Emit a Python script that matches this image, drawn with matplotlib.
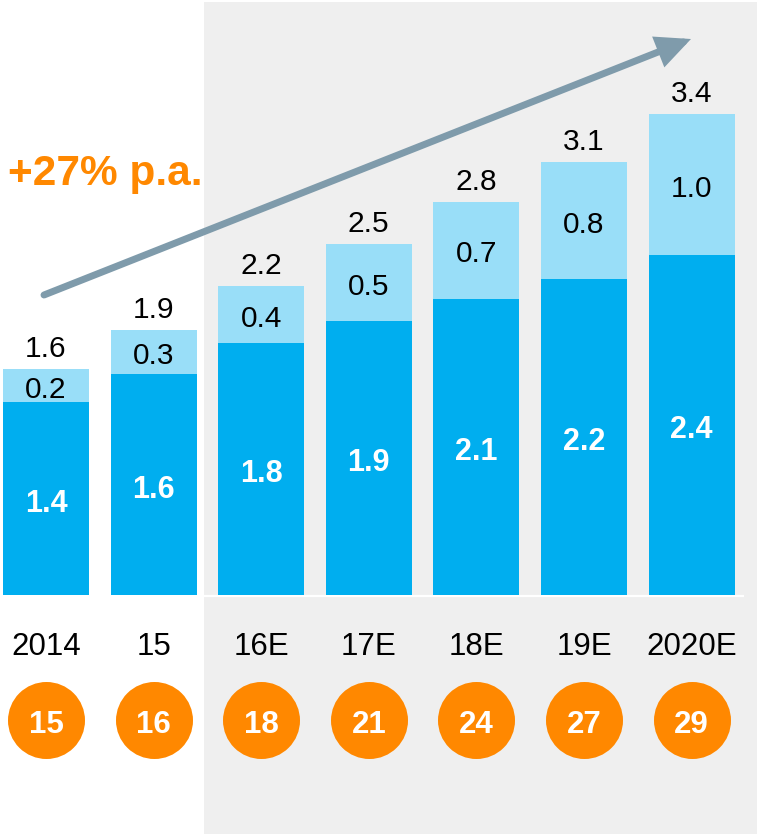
import matplotlib
matplotlib.use("Agg")
import matplotlib.pyplot as plt

plt.rcParams['font.family'] = ['Liberation Sans', 'DejaVu Sans']

categories = ["2014", "15", "16E", "17E", "18E", "19E", "2020E"]
base_values = [1.37, 1.57, 1.79, 1.94, 2.10, 2.24, 2.41]
extra_values = [0.23, 0.31, 0.40, 0.55, 0.69, 0.83, 1.00]
base_labels = ["1.4", "1.6", "1.8", "1.9", "2.1", "2.2", "2.4"]
extra_labels = ["0.2", "0.3", "0.4", "0.5", "0.7", "0.8", "1.0"]
total_labels = ["1.6", "1.9", "2.2", "2.5", "2.8", "3.1", "3.4"]
circle_values = [15, 16, 18, 21, 24, 27, 29]
growth_text = "+27% p.a."

DARK = "#00aeef"
LIGHT = "#99def8"
ORANGE = "#ff8800"
GRAY_BG = "#efefef"
ARROW = "#7f9bab"

W, H, DPI = 757, 834, 100
PT = 0.72  # points per pixel
fig = plt.figure(figsize=(W / DPI, H / DPI), dpi=DPI)
ax = fig.add_axes([0, 0, 1, 1])

# pixel mapping: bar centers at 46 + 107.6*i, baseline at y=595 px, 141 px per unit
px_x = 107.6
px_y = 141.0
x0_px = 46.0
base_px = 595.0
ax.set_xlim(-x0_px / px_x, (W - x0_px) / px_x)
ax.set_ylim(-(H - base_px) / px_y, base_px / px_y)
ax.axis("off")


def ypix(py):
    return (base_px - py) / px_y


def xpix(px):
    return (px - x0_px) / px_x


xs = list(range(len(categories)))
ylo, yhi = ax.get_ylim()

# gray forecast background
gx0 = xpix(204)
ax.fill_between([gx0, ax.get_xlim()[1]], ylo, ypix(2), color=GRAY_BG, zorder=0, lw=0)
# white baseline
ax.plot([gx0, xpix(744)], [ypix(596), ypix(596)], color="white", lw=1.6, zorder=1,
        solid_capstyle="butt")

bw = 86 / px_x
ax.bar(xs, base_values, width=bw, color=DARK, zorder=2)
ax.bar(xs, extra_values, width=bw, bottom=base_values, color=LIGHT, zorder=2)

for i, x in enumerate(xs):
    b = base_values[i]
    e = extra_values[i]
    ax.annotate(base_labels[i], (x, b / 2), xytext=(0, -13.2 * PT), textcoords="offset points",
                ha="center", va="baseline", color="white", fontsize=22, fontweight="bold",
                zorder=3)
    ax.annotate(extra_labels[i], (x, b + e / 2), xytext=(0, -12.2 * PT), textcoords="offset points",
                ha="center", va="baseline", color="black", fontsize=21.5, zorder=3)
    ax.annotate(total_labels[i], (x, b + e), xytext=(0, 12 * PT), textcoords="offset points",
                ha="center", va="baseline", color="black", fontsize=21.5, zorder=3)
    ax.text(x, ypix(655), categories[i], ha="center", va="baseline",
            color="black", fontsize=22.5, zorder=3)

cy = ypix(720.3)
ax.scatter(xs, [cy] * len(xs), s=(77 * PT) ** 2, color=ORANGE, lw=0, zorder=3)
for i, x in enumerate(xs):
    ax.annotate(str(circle_values[i]), (x, cy), xytext=(0, -13 * PT), textcoords="offset points",
                ha="center", va="baseline", color="white", fontsize=22.5, fontweight="bold",
                zorder=4)

# growth arrow
arrow_start = (xpix(44), ypix(295))
arrow_end = (xpix(691), ypix(39))
ax.annotate("", xy=arrow_end, xytext=arrow_start,
            arrowprops=dict(arrowstyle="-|>,head_length=0.85,head_width=0.4",
                            mutation_scale=20, lw=5, color=ARROW,
                            shrinkA=0, shrinkB=0, joinstyle="miter"),
            zorder=2.5)

ax.text(xpix(8), ypix(185), growth_text, ha="left", va="baseline",
        color=ORANGE, fontsize=30.5, fontweight="bold", zorder=3)

fig.savefig("out.png", dpi=DPI)
